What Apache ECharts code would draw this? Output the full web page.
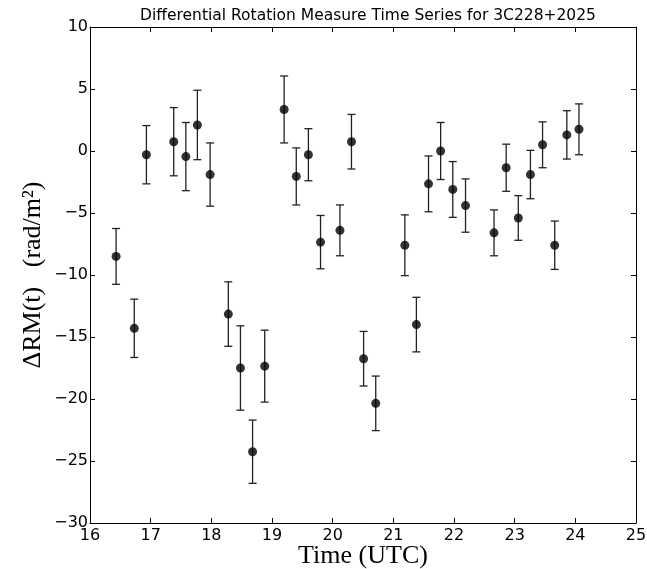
<!DOCTYPE html>
<html>
<head>
<meta charset="utf-8">
<script src="https://cdn.jsdelivr.net/npm/echarts@6/dist/echarts.min.js"></script>
<style>
  html, body { margin: 0; padding: 0; background: #fff; }
  #chart { width: 647px; height: 569px; }
</style>
</head>
<body>
<div id="chart"></div>
<script>
// time (UTC hours), differential RM, 1-sigma error
const times = [16.43, 16.73, 16.93, 17.38, 17.58, 17.77, 17.98, 18.28, 18.48, 18.68, 18.88,
  19.20, 19.40, 19.60, 19.80, 20.12, 20.31, 20.51, 20.71, 21.19, 21.38, 21.58, 21.78,
  21.98, 22.19, 22.66, 22.86, 23.06, 23.26, 23.46, 23.66, 23.86, 24.06];
const drm = [-8.5, -14.3, -0.3, 0.75, -0.45, 2.1, -1.9, -13.15, -17.5, -24.25, -17.35,
  3.35, -2.05, -0.3, -7.35, -6.4, 0.75, -16.75, -20.35, -7.6, -14.0, -2.65, 0.0,
  -3.1, -4.4, -6.6, -1.35, -5.4, -1.9, 0.5, -7.6, 1.3, 1.75];
const errs = [2.25, 2.35, 2.35, 2.75, 2.75, 2.8, 2.55, 2.6, 3.4, 2.55, 2.9,
  2.7, 2.3, 2.1, 2.15, 2.05, 2.2, 2.2, 2.2, 2.45, 2.2, 2.25, 2.3,
  2.25, 2.15, 1.85, 1.9, 1.8, 1.95, 1.85, 1.95, 1.95, 2.05];

const xTicks = [16, 17, 18, 19, 20, 21, 22, 23, 24, 25];
const yTicks = [-30, -25, -20, -15, -10, -5, 0, 5, 10];

const points = times.map((t, i) => [t, drm[i]]);
const bars = times.map((t, i) => [t, drm[i] - errs[i], drm[i] + errs[i]]);

const chart = echarts.init(document.getElementById('chart'));

const tickFont = { fontFamily: 'DejaVu Sans', fontSize: 16, color: '#000' };
const fmt = v => String(v).replace('-', '\u2212');

const baseX = {
  type: 'value', min: xTicks[0], max: xTicks[xTicks.length - 1], interval: 1,
  axisLine: { show: true, onZero: false, lineStyle: { color: '#000', width: 1 } },
  axisTick: { show: true, inside: true, length: 5, lineStyle: { color: '#000' } },
  splitLine: { show: false }
};
const baseY = {
  type: 'value', min: yTicks[0], max: yTicks[yTicks.length - 1], interval: 5,
  axisLine: { show: true, onZero: false, lineStyle: { color: '#000', width: 1 } },
  axisTick: { show: true, inside: true, length: 5, lineStyle: { color: '#000' } },
  splitLine: { show: false }
};

chart.setOption({
  animation: false,
  backgroundColor: '#fff',
  title: {
    text: 'Differential Rotation Measure Time Series for 3C228+2025',
    left: 363, top: 3, textAlign: 'center',
    textStyle: { fontFamily: 'DejaVu Sans', fontSize: 15.5, fontWeight: 'normal', color: '#000' }
  },
  grid: { left: 90, right: 11, top: 27, bottom: 46, outerBoundsMode: 'none' },
  xAxis: [
    Object.assign({}, baseX, {
      position: 'bottom',
      name: 'Time (UTC)', nameLocation: 'middle', nameGap: 20, nameMoveOverlap: false,
      nameTextStyle: { fontFamily: 'Liberation Serif', fontSize: 26, color: '#000' },
      axisLabel: Object.assign({ margin: 5, formatter: fmt }, tickFont)
    }),
    Object.assign({}, baseX, { position: 'top', axisLabel: { show: false } })
  ],
  yAxis: [
    Object.assign({}, baseY, {
      position: 'left',
      name: '\u0394RM(t)   (rad/m\u00b2)', nameLocation: 'middle', nameGap: 44, nameMoveOverlap: false,
      nameTextStyle: { fontFamily: 'Liberation Serif', fontSize: 26, color: '#000' },
      axisLabel: Object.assign({ margin: 2, formatter: fmt }, tickFont)
    }),
    Object.assign({}, baseY, { position: 'right', axisLabel: { show: false } })
  ],
  series: [
    {
      type: 'custom',
      data: bars,
      z: 2,
      renderItem: (params, api) => {
        const x = api.value(0);
        const lo = api.coord([x, api.value(1)]);
        const hi = api.coord([x, api.value(2)]);
        const cap = 4;
        const style = { stroke: '#222', lineWidth: 1.3 };
        return {
          type: 'group',
          children: [
            { type: 'line', shape: { x1: lo[0], y1: lo[1], x2: hi[0], y2: hi[1] }, style },
            { type: 'line', shape: { x1: lo[0] - cap, y1: lo[1], x2: lo[0] + cap, y2: lo[1] }, style },
            { type: 'line', shape: { x1: hi[0] - cap, y1: hi[1], x2: hi[0] + cap, y2: hi[1] }, style }
          ]
        };
      }
    },
    {
      type: 'scatter',
      data: points,
      symbol: 'circle',
      symbolSize: 9,
      z: 3,
      itemStyle: { color: '#000' }
    }
  ]
});
</script>
</body>
</html>
